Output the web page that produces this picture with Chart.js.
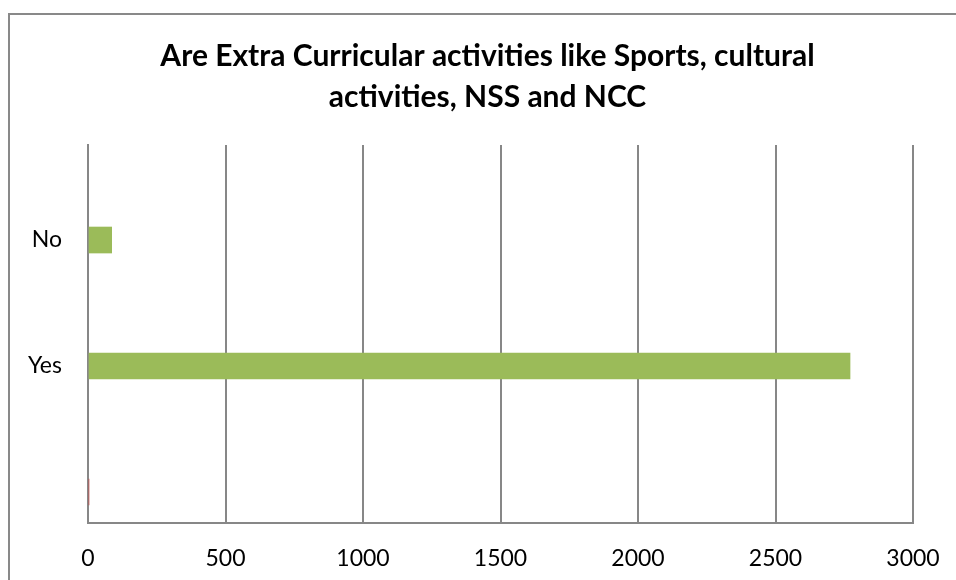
<!DOCTYPE html>
<html>
<head>
<title>Extra Curricular activities</title>
<script src="https://cdn.jsdelivr.net/npm/chart.js@4.4.1/dist/chart.umd.min.js"></script>
<style>
body { margin:0; background:#fff; overflow:hidden; }
#frame {
position:absolute; left:8px; top:13px;
width:1000px; height:700px;
border:2px solid #898989;
}
#wrap { position:absolute; left:0; top:0; width:956px; height:580px; }
</style>
</head>
<body>
<div id="frame"></div>
<div id="wrap"><canvas id="myChart"></canvas></div>
<script>
// categories bottom to top, as Excel lists them
var categories = ['', 'Yes', 'No'];
var values = [3, 2771, 86];
var barColors = ['#C0504D', '#9BBB59', '#9BBB59'];
var xTicks = [0, 500, 1000, 1500, 2000, 2500, 3000];
var titleLines = ['Are Extra Curricular activities like Sports, cultural', 'activities, NSS and NCC'];

var gridColor = '#878787';
var points = values.map(function (v, i) { return { x: v, y: i }; });

var ctx = document.getElementById('myChart').getContext('2d');
var chart = new Chart(ctx, {
  type: 'bar',
  data: {
    datasets: [{
      data: points,
      backgroundColor: barColors,
      borderWidth: 0,
      barThickness: 26
    }]
  },
  options: {
    indexAxis: 'y',
    responsive: true,
    maintainAspectRatio: false,
    animation: false,
    layout: { padding: { left: 62, right: 43, top: 0, bottom: 0 } },
    plugins: {
      legend: { display: false },
      tooltip: { enabled: false },
      title: {
        display: true,
        text: titleLines,
        color: '#000',
        font: { family: 'Lato', size: 30, weight: 'bold', lineHeight: 1.367 },
        padding: { top: 36, bottom: 27 }
      }
    },
    scales: {
      x: {
        type: 'linear',
        min: xTicks[0],
        max: xTicks[xTicks.length - 1],
        afterBuildTicks: function (s) { s.ticks = xTicks.map(function (v) { return { value: v }; }); },
        afterFit: function (s) { s.height = 57; },
        grid: { color: gridColor, lineWidth: 2, drawTicks: true, tickLength: 18, tickColor: 'rgba(0,0,0,0)' },
        border: { display: true, color: gridColor, width: 2 },
        ticks: {
          color: '#000', padding: 4, font: { family: 'Lato', size: 23 },
          callback: function (v) { return String(v); }
        }
      },
      y: {
        type: 'linear',
        offset: false,
        min: -0.246,
        max: 2.754,
        afterBuildTicks: function (s) { s.ticks = categories.map(function (c, i) { return { value: i }; }); },
        afterFit: function (s) { s.width = 26; },
        grid: { display: false, drawTicks: false },
        border: { display: true, color: gridColor, width: 2 },
        ticks: {
          color: '#000',
          mirror: true,
          crossAlign: 'far',
          padding: -60,
          autoSkip: false,
          font: { family: 'Lato', size: 23 },
          callback: function (v) { return categories[v]; }
        }
      }
    }
  }
});
</script>
</body>
</html>
